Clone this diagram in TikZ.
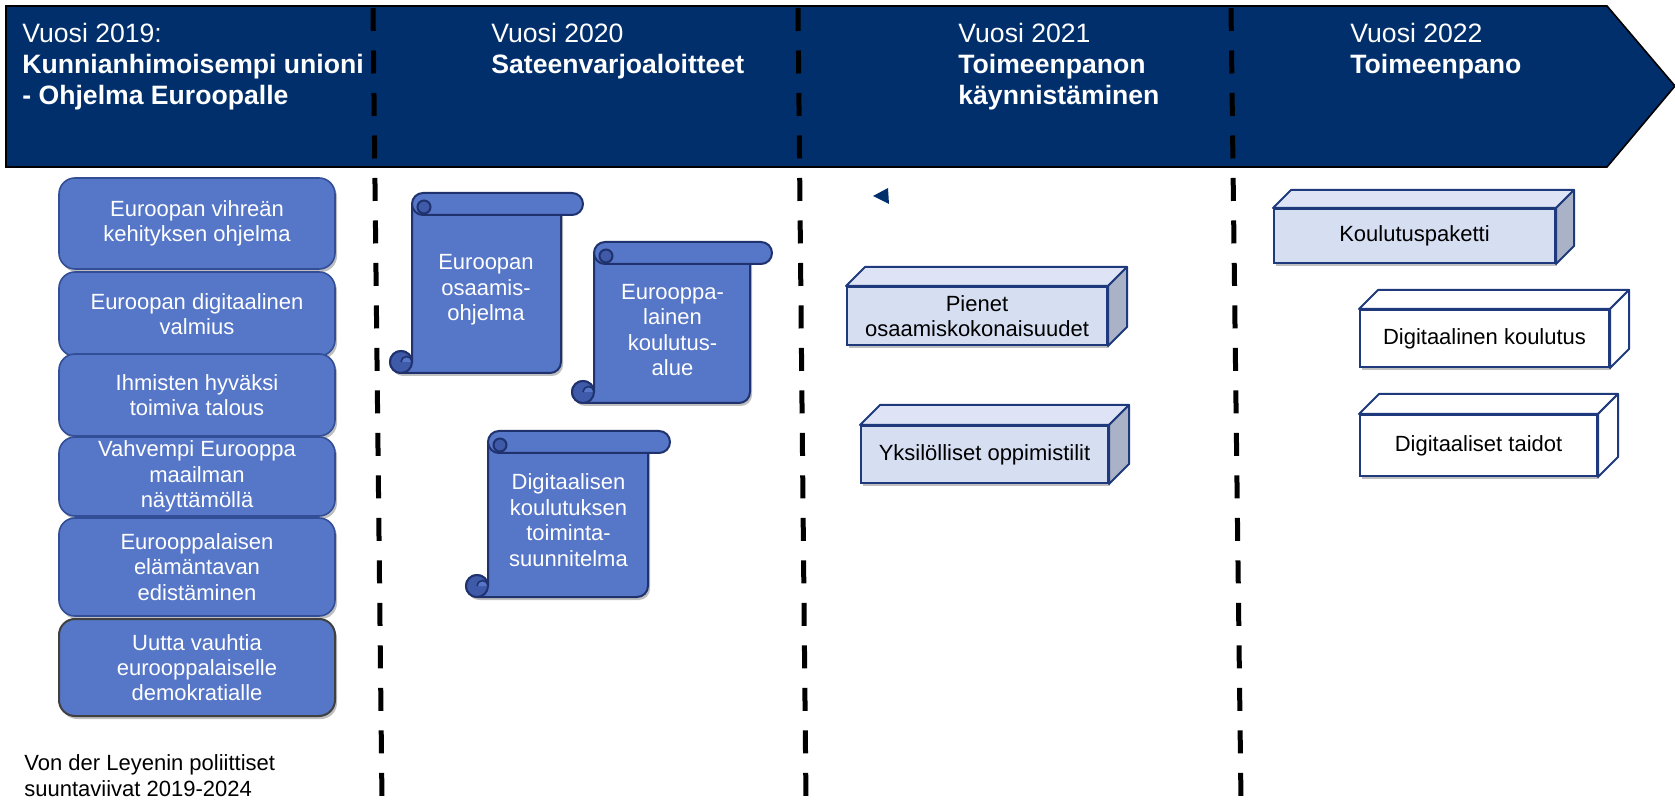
\documentclass[tikz,border=0pt]{standalone}
\usepackage{fontspec}
\setmainfont{Liberation Sans}
\usetikzlibrary{shadows}

\definecolor{navy}{RGB}{0,47,108}
\definecolor{boxblue}{RGB}{86,118,200}
\definecolor{boxedge}{RGB}{50,78,150}
\definecolor{scrolledge}{RGB}{31,50,110}
\definecolor{curlblue}{RGB}{62,90,168}
\definecolor{cubefill}{RGB}{214,222,242}
\definecolor{cubetopfill}{RGB}{222,228,245}
\definecolor{sidegray}{RGB}{170,178,200}
\definecolor{cubeedge}{RGB}{30,58,125}

\tikzset{
  softshadow/.style={drop shadow={shadow xshift=1pt, shadow yshift=-1.5pt, opacity=0.25, fill=black}},
  header/.style={fill=navy, draw=black, line width=0.8pt},
  yeartext/.style={anchor=north west, inner sep=0pt, align=left, text=white,
    font=\fontsize{13.3}{15.5}\selectfont},
  yearline/.style={line width=2.5pt, dash pattern=on 11.5pt off 9.75pt},
  goal/.style={draw=boxedge, line width=0.8pt, fill=boxblue, rounded corners=8pt,
    minimum width=138pt, inner sep=0pt, align=center, text=white,
    font=\fontsize{11}{12.6}\selectfont, softshadow},
  source/.style={anchor=north west, inner sep=0pt, align=left,
    font=\fontsize{11}{13}\selectfont},
  scrollbody/.style={fill=boxblue, draw=scrolledge, line width=1pt},
  scrollcurl/.style={fill=curlblue, draw=scrolledge, line width=1pt},
  scrolltext/.style={align=center, inner sep=0pt, text=white,
    font=\fontsize{11}{12.8}\selectfont},
  front fill/.style={}, top fill/.style={}, side fill/.style={},
  lightcube/.style={front fill/.style={fill=cubefill}, top fill/.style={fill=cubetopfill},
    side fill/.style={fill=sidegray}},
  whitecube/.style={front fill/.style={fill=white}, top fill/.style={fill=white},
    side fill/.style={fill=white}},
  cubefront/.style={draw=cubeedge, line width=1pt, front fill, inner sep=0pt, align=center,
    font=\fontsize{11}{12.6}\selectfont, softshadow},
  cubetop/.style={draw=cubeedge, line width=1pt, line join=round, top fill},
  cubeside/.style={draw=cubeedge, line width=1pt, line join=round, side fill}
}

% x0 (body left), top, right end of roll, bottom
\newcommand{\scrollshape}[4]{%
  \draw[scrollbody, softshadow] (#1,{#2+11}) -- (#1,{#4-11}) arc (0:-270:11)
    -- ({#3-33},#4) arc (90:0:11) -- ({#3-22},{#2+11}) -- cycle;
  \draw[scrollcurl] ({#1-11},{#4-11}) circle (11);
  \fill[boxblue] ({#1-11},{#4-11}) arc (180:360:5.5) -- cycle;
  \draw[scrolledge, line width=0.8pt] ({#1-11},{#4-11}) arc (180:360:5.5);
  \draw[scrollbody] ({#1+11},#2) -- ({#3-11},#2) arc (-90:90:11)
    -- ({#1+11},{#2+22}) arc (90:270:11) -- cycle;
  \draw[scrollcurl] ({#1+12},{#2+14}) circle (6.5);
}

% look, name, x, y, width, height, depth, text
\newcommand{\blockbox}[8]{%
  \begin{scope}[#1]
  \node[cubefront, minimum width=#5, minimum height=#6] (#2) at (#3,#4) {#8};
  \draw[cubetop] (#2.north west) -- ([shift={(#7,-#7)}]#2.north west)
    -- ([shift={(#7,-#7)}]#2.north east) -- (#2.north east) -- cycle;
  \draw[cubeside] (#2.north east) -- ([shift={(#7,-#7)}]#2.north east)
    -- ([shift={(#7,-#7)}]#2.south east) -- (#2.south east) -- cycle;
  \end{scope}
}

\begin{document}
\begin{tikzpicture}[x=0.5pt,y=-0.5pt]
\useasboundingbox (0,0) rectangle (1675,801);

% timeline arrow
\draw[header] (6,6) -- (1607,6) -- (1675,86) -- (1607,167) -- (6,167) -- cycle;
\node[yeartext] (y2019) at (22,23) {Vuosi 2019:\\\textbf{Kunnianhimoisempi unioni}\\\textbf{- Ohjelma Euroopalle}};
\node[yeartext] (y2020) at (491,23) {Vuosi 2020\\\textbf{Sateenvarjoaloitteet}};
\node[yeartext] (y2021) at (958,23) {Vuosi 2021\\\textbf{Toimeenpanon}\\\textbf{käynnistäminen}};
\node[yeartext] (y2022) at (1350,23) {Vuosi 2022\\\textbf{Toimeenpano}};

% year borders
\draw[yearline] (373,8) -- (382,801);
\draw[yearline] (798,8) -- (806,801);
\draw[yearline] (1231,8) -- (1241,801);

% 2019
\node[goal, minimum height=45.5pt] (g1) at (197,223.5) {Euroopan vihreän\\kehityksen ohjelma};
\node[goal, minimum height=42pt] (g2) at (197,314) {Euroopan digitaalinen\\valmius};
\node[goal, minimum height=41pt] (g3) at (197,395) {Ihmisten hyväksi\\toimiva talous};
\node[goal, minimum height=39.5pt] (g4) at (197,476.5) {Vahvempi Eurooppa\\maailman\\näyttämöllä};
\node[goal, minimum height=49pt] (g5) at (197,567) {Eurooppalaisen\\elämäntavan\\edistäminen};
\node[goal, draw=black!75, line width=1pt, minimum height=48.5pt] (g6) at (197,667.5) {Uutta vauhtia\\eurooppalaiselle\\demokratialle};
\node[source] (src) at (24,754) {Von der Leyenin poliittiset\\suuntaviivat 2019-2024};

% 2020
\scrollshape{412}{193}{583}{373}
\node[scrolltext] (osaamis) at (486,290) {Euroopan\\osaamis-\\ohjelma};
\scrollshape{594}{242}{772}{403}
\node[scrolltext] (alue) at (672.5,330) {Eurooppa-\\lainen\\koulutus-\\alue};
\scrollshape{488}{431}{670}{597}
\node[scrolltext] (toiminta) at (568.5,520) {Digitaalisen\\koulutuksen\\toiminta-\\suunnitelma};

% 2021
\fill[navy] (873,196) -- (888,188) -- (889,204) -- cycle;
\blockbox{lightcube}{pienet}{977}{316}{130pt}{29pt}{19}{Pienet\\osaamiskokonaisuudet}
\blockbox{lightcube}{tilit}{984.5}{454.5}{123.5pt}{28.5pt}{20}{Yksilölliset oppimistilit}

% 2022
\blockbox{lightcube}{paketti}{1414.5}{236}{140.5pt}{27pt}{18}{Koulutuspaketti}
\blockbox{whitecube}{koulutus}{1484.5}{338.5}{124.5pt}{28.5pt}{19}{Digitaalinen koulutus}
\blockbox{whitecube}{taidot}{1478.5}{445.5}{118.5pt}{30.5pt}{20}{Digitaaliset taidot}
\end{tikzpicture}
\end{document}
